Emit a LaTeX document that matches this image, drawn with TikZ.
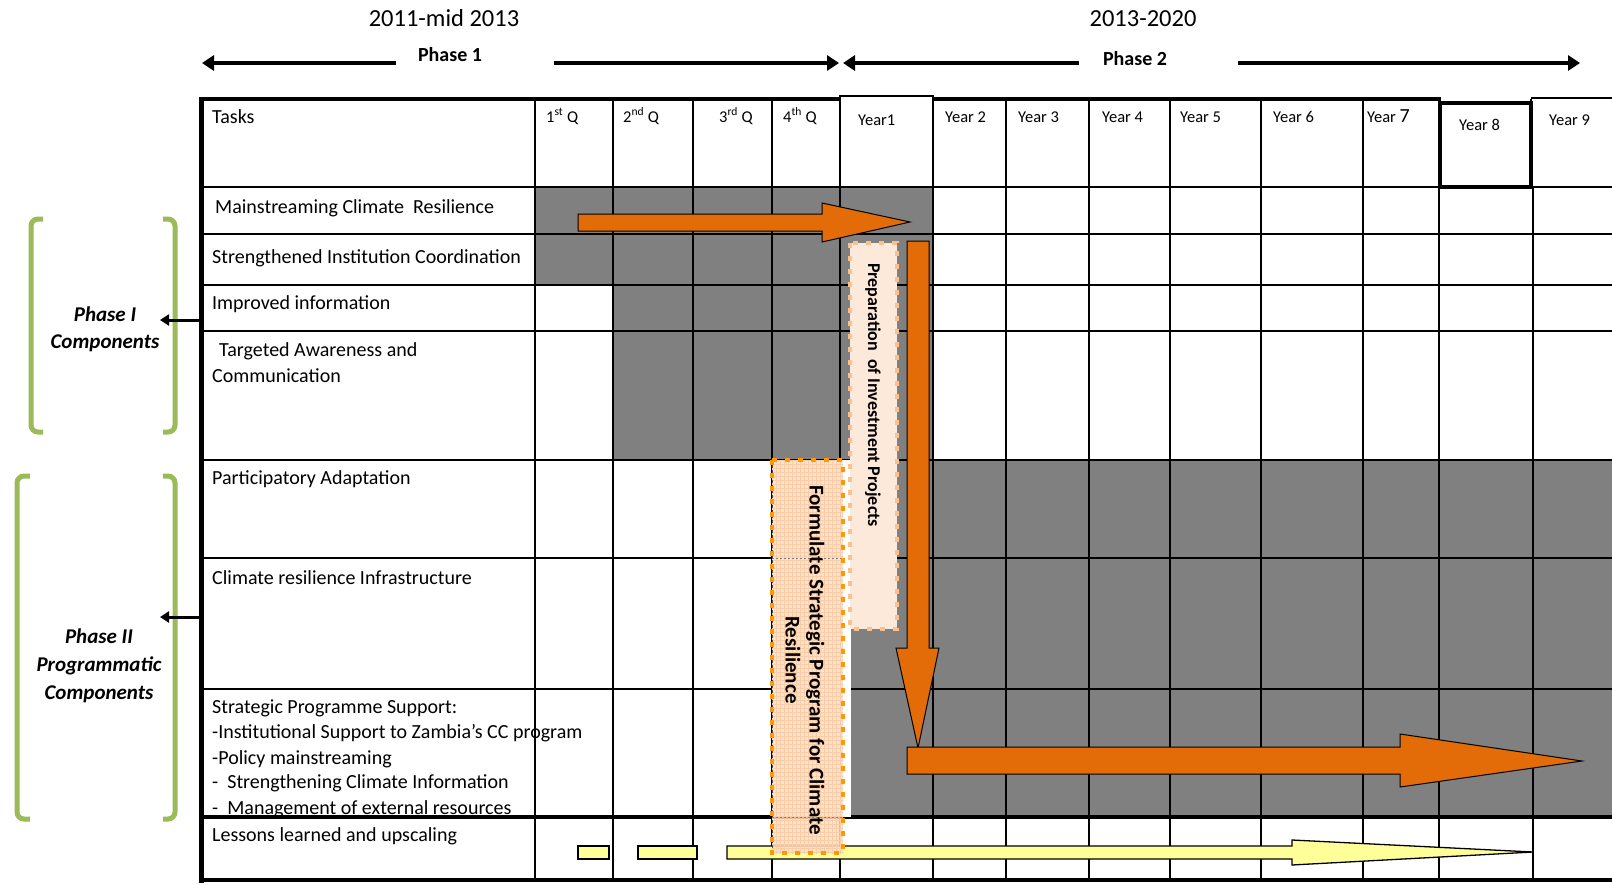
\documentclass[tikz,border=0pt]{standalone}
\usepackage{fontspec}
\setmainfont{Carlito}
\usetikzlibrary{arrows.meta}
\definecolor{gbar}{RGB}{128,128,128}
\definecolor{orng}{RGB}{227,108,9}
\definecolor{peach}{RGB}{253,233,217}
\definecolor{peachline}{RGB}{250,192,144}
\definecolor{fpeach}{RGB}{252,220,194}
\definecolor{fgrid}{RGB}{250,204,168}
\definecolor{fdot}{RGB}{255,153,0}
\definecolor{grn}{RGB}{155,187,89}
\definecolor{ylw}{RGB}{255,255,153}
\begin{document}
\begin{tikzpicture}[x=1pt,y=-1pt,
  txt/.style={anchor=base west, inner sep=0pt, font=\fontsize{20}{24}\selectfont},
  hdr/.style={anchor=base west, inner sep=0pt, font=\fontsize{16.5}{20}\selectfont},
  ttl/.style={anchor=base, inner sep=0pt, font=\fontsize{24.5}{28}\selectfont},
  phs/.style={anchor=base, inner sep=0pt, font=\bfseries\fontsize{20}{24}\selectfont},
  cmp/.style={anchor=base, inner sep=0pt, font=\bfseries\itshape\fontsize{21}{26}\selectfont},
  graycell/.style={fill=gbar, draw=none},
  gridline/.style={line width=2pt},
  hline/.style={line width=2.5pt},
  phasearrow/.style={line width=4.5pt, -{Triangle[length=12pt,width=15pt]}},
  sidearrow/.style={line width=3pt, -{Triangle[length=9pt,width=11pt]}},
  bracket/.style={draw=grn, line width=5pt, rounded corners=7pt},
  blockarrow/.style={draw=black, line width=1pt, fill=orng},
  yarrow/.style={draw=black, line width=1.3pt, fill=ylw},
]
\useasboundingbox (0,0) rectangle (1612,884);
\fill[white] (0,0) rectangle (1612,884);

% titles
\node[ttl] (t1) at (444,26) {2011-mid 2013};
\node[ttl] (t2) at (1143,26) {2013-2020};
\node[phs] (p1) at (450,61) {Phase 1};
\node[phs] (p2) at (1135,65) {Phase 2};
\coordinate (p1l) at (396,63); \coordinate (p1le) at (202,63);
\coordinate (p1r) at (554,63); \coordinate (p1re) at (839,63);
\coordinate (p2l) at (1079,63); \coordinate (p2le) at (843,63);
\coordinate (p2r) at (1238,63); \coordinate (p2re) at (1580,63);
\draw[phasearrow] (p1l) -- (p1le);
\draw[phasearrow] (p1r) -- (p1re);
\draw[phasearrow] (p2l) -- (p2le);
\draw[phasearrow] (p2r) -- (p2re);

% gray cells
\fill[graycell] (535,187) rectangle (933,285);
\fill[graycell] (613,285) rectangle (933,460);
\fill[graycell] (851,460) rectangle (1612,817);

% row texts
\node[txt] (tasks) at (212,123) {Tasks};
\node[txt] (r1) at (215,213) {Mainstreaming Climate \ Resilience};
\node[txt] (r2) at (212,263) {Strengthened Institution Coordination};
\node[txt] (r3) at (212,309) {Improved information};
\node[txt] (r4a) at (219,356) {Targeted Awareness and};
\node[txt] (r4b) at (212,382) {Communication};
\node[txt] (r5) at (212,484) {Participatory Adaptation};
\node[txt] (r6) at (212,584) {Climate resilience Infrastructure};
\node[txt] (r7a) at (212,713) {Strategic Programme Support:};
\node[txt] (r7b) at (212,738) {-Institutional Support to Zambia’s CC program};
\node[txt] (r7c) at (212,764) {-Policy mainstreaming};
\node[txt] (r7d) at (212,788) {- \ Strengthening Climate Information};
\node[txt] (r7e) at (212,814) {- \ Management of external resources};
\node[txt] (r8) at (212,841) {Lessons learned and upscaling};

% grid
\foreach \x in {535,613,693,772,840,933,1006,1089,1170,1261,1363,1439}
  \draw[gridline] (\x,99) -- (\x,881);
\draw[gridline] (1531,99) -- (1531,187);
\draw[line width=1.2pt] (1533,187) -- (1533,881);
\foreach \y in {187,234,285,331,460,558,689}
  \draw[hline] (201,\y) -- (1612,\y);
\draw[line width=4pt] (201,817) -- (1612,817);
\draw[line width=4pt] (201,880) -- (1612,880);
\draw[line width=4pt] (201,99) -- (840,99);
\draw[line width=4pt] (933,99) -- (1441,99);
\draw[line width=1.2pt] (1531,98) -- (1612,98);
\draw[line width=2pt, fill=white] (840,96) rectangle (933,187);
\draw[line width=3.5pt, fill=white] (1440,103) rectangle (1531,187);
\draw[line width=5pt] (201,97) -- (201,883);

% headers
\node[hdr] (q1) at (546,122) {1\textsuperscript{st} Q};
\node[hdr] (q2) at (623,122) {2\textsuperscript{nd} Q};
\node[hdr] (q3) at (719,122) {3\textsuperscript{rd} Q};
\node[hdr] (q4) at (783,122) {4\textsuperscript{th} Q};
\node[hdr] (y1) at (858,125) {Year1};
\node[hdr] (y2) at (945,122) {Year 2};
\node[hdr] (y3) at (1018,122) {Year 3};
\node[hdr] (y4) at (1102,122) {Year 4};
\node[hdr] (y5) at (1180,122) {Year 5};
\node[hdr] (y6) at (1273,122) {Year 6};
\node[hdr] (y7) at (1367,122) {Year {\fontsize{20}{20}\selectfont 7}};
\node[hdr] (y8) at (1459,130) {Year 8};
\node[hdr] (y9) at (1549,125) {Year 9};

% yellow arrow and bars
\draw[yarrow] (578,846) rectangle (609,859);
\draw[yarrow] (638,846) rectangle (697,859);
\draw[yarrow] (727,846) -- (1292,846) -- (1292,840) -- (1533,852) -- (1292,865) -- (1292,859) -- (727,859) -- cycle;

% Formulate box
\fill[white] (772,460) rectangle (851,817);
\fill[fpeach, fill opacity=0.85] (772,460) rectangle (843,853);
\begin{scope}
  \clip (772,460) rectangle (843,853);
  \draw[fgrid, line width=0.35pt, step=4pt] (760,450) grid (850,860);
\end{scope}
\draw[black!70, line width=0.8pt, dash pattern=on 3pt off 2pt] (772,460) -- (772,853);
\draw[black!50, line width=0.8pt, dash pattern=on 2pt off 2pt] (772,558) -- (843,558);
\draw[black!50, line width=0.8pt, dash pattern=on 2pt off 2pt] (772,817) -- (843,817);
\draw[fdot, line width=4.5pt, dash pattern=on 5pt off 8pt] (772,460) rectangle (843,853);
\node[rotate=-90, align=center, inner sep=0pt,
      font=\bfseries\fontsize{21}{24}\selectfont] (form) at (805,660)
      {Formulate Strategic Program for Climate\\Resilience};

% Preparation box
\fill[peach] (850,243) rectangle (897,629);
\draw[peachline, line width=4.5pt, dash pattern=on 5pt off 8pt] (850,243) rectangle (897,629);
\node[rotate=-90, inner sep=0pt, font=\bfseries\fontsize{18}{20}\selectfont] (prep) at (873,395)
      {Preparation \ of Investment Projects};

% orange arrows
\draw[blockarrow] (578,214) -- (822,214) -- (822,203) -- (910,222) -- (822,242) -- (822,231) -- (578,231) -- cycle;
\draw[blockarrow] (907,241) -- (929,241) -- (929,648) -- (939,648) -- (918,748) -- (896,648) -- (907,648) -- cycle;
\draw[blockarrow] (907,747) -- (1400,747) -- (1400,734) -- (1582,761) -- (1400,787) -- (1400,774) -- (907,774) -- cycle;

% left brackets
\draw[bracket] (43,219) -- (31,219) -- (31,432) -- (43,432);
\draw[bracket] (163,219) -- (175,219) -- (175,432) -- (163,432);
\draw[bracket] (30,476) -- (17,476) -- (17,819) -- (30,819);
\draw[bracket] (163,476) -- (175,476) -- (175,819) -- (163,819);
\node[cmp] (c1a) at (105,321) {Phase I};
\node[cmp] (c1b) at (105,348) {Components};
\node[cmp] (c2a) at (99,643) {Phase II};
\node[cmp] (c2b) at (99,671) {Programmatic};
\node[cmp] (c2c) at (99,699) {Components};
\coordinate (s1) at (201,320); \coordinate (s1e) at (160,320);
\coordinate (s2) at (201,617); \coordinate (s2e) at (160,617);
\draw[sidearrow] (s1) -- (s1e);
\draw[sidearrow] (s2) -- (s2e);
\end{tikzpicture}
\end{document}
